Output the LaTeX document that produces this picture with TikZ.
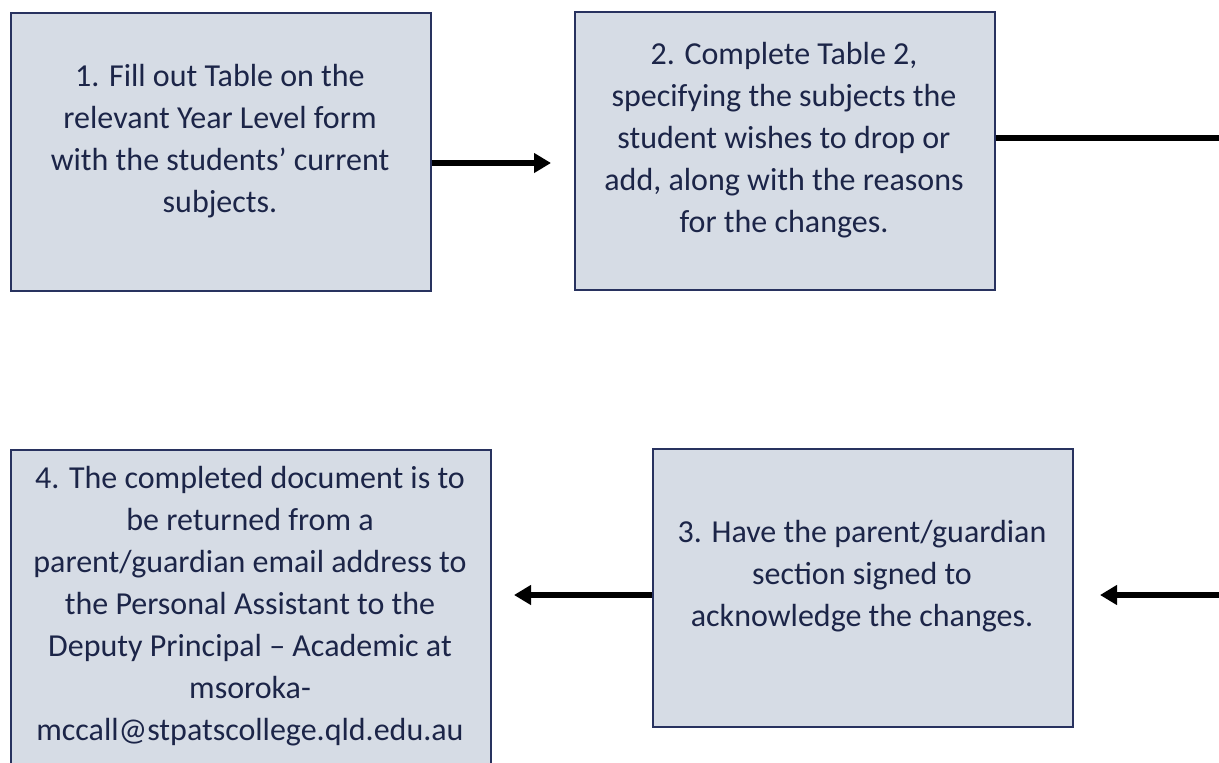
\documentclass[tikz,border=0pt]{standalone}
\usepackage{fontspec}
\setmainfont{Carlito}
\usetikzlibrary{arrows.meta}
\definecolor{boxfill}{RGB}{214,220,229}
\definecolor{boxline}{RGB}{40,50,95}
\definecolor{txtcol}{RGB}{28,37,72}
\begin{document}
\begin{tikzpicture}[x=1pt,y=-1pt,
  stepbox/.style={draw=boxline,line width=1.6pt,fill=boxfill,minimum width=420pt,minimum height=278pt,inner sep=0pt,anchor=north west},
  txt/.style={text=txtcol,align=center,font=\fontsize{32}{42}\selectfont,inner sep=0pt},
  conn/.style={line width=6pt},
  arr/.style={conn,-{Triangle[length=17pt,width=19pt]}}]
\useasboundingbox (0,0) rectangle (1219,763);
\clip (0,0) rectangle (1219,763);
\node[stepbox] (b1) at (10,12) {};
\node[stepbox] (b2) at (574,11) {};
\node[stepbox] (b3) at (652,448) {};
\node[stepbox,minimum width=480pt,minimum height=330pt] (b4) at (10,449) {};
\node[txt] (t1) at (220,141) {1. Fill out Table on the\\relevant Year Level form\\with the students’ current\\subjects.};
\node[txt] (t2) at (784,140) {2. Complete Table 2,\\specifying the subjects the\\student wishes to drop or\\add, along with the reasons\\for the changes.};
\node[txt] (t3) at (862,576) {3. Have the parent/guardian\\section signed to\\acknowledge the changes.};
\node[txt] (t4) at (250,606) {4. The completed document is to\\be returned from a\\parent/guardian email address to\\the Personal Assistant to the\\Deputy Principal – Academic at\\msoroka-\\mccall@stpatscollege.qld.edu.au};
\coordinate (e1) at (551,163);
\coordinate (e2) at (1222,138);
\coordinate (s3) at (1222,595);
\coordinate (e3) at (1100,595);
\coordinate (e4) at (514,595);
\draw[arr] (b1.east |- e1) -- (e1);
\draw[conn] (b2.east |- e2) -- (e2);
\draw[arr] (s3) -- (e3);
\draw[arr] (b3.west |- e4) -- (e4);
\end{tikzpicture}
\end{document}
